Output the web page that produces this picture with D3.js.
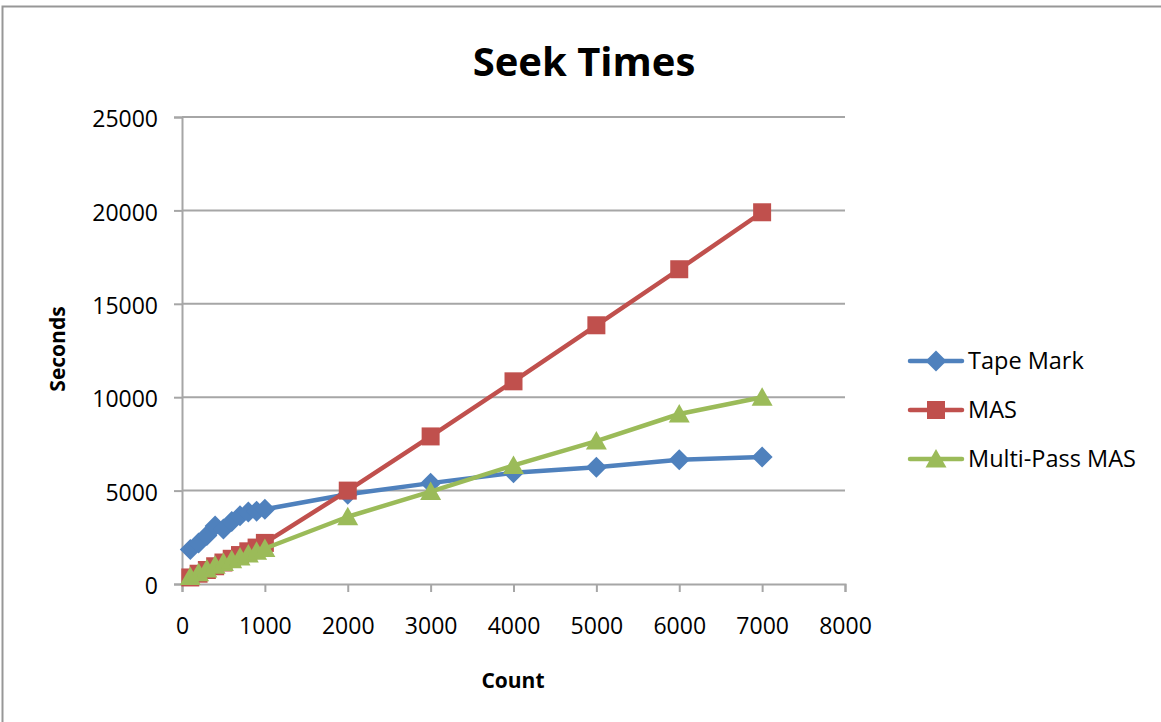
<!DOCTYPE html>
<html>
<head>
<meta charset="utf-8">
<script src="https://cdn.jsdelivr.net/npm/d3@7/dist/d3.min.js"></script>
<style>
  html, body { margin: 0; padding: 0; background: #fff; }
  svg { display: block; }
  text { font-family: "Open Sans", "DejaVu Sans", sans-serif; }
</style>
</head>
<body>
<svg id="chart" width="1161" height="722"></svg>
<script>
// ---- data ----
const counts = [100, 200, 300, 400, 500, 600, 700, 800, 900, 1000, 2000, 3000, 4000, 5000, 6000, 7000];
const tapeMark = [1850, 2200, 2600, 3100, 2950, 3350, 3650, 3850, 3900, 4000, 4800, 5400, 5950, 6250, 6650, 6800];
const mas = [350, 550, 750, 950, 1150, 1350, 1550, 1750, 1950, 2200, 5000, 7900, 10850, 13850, 16850, 19900];
const multiPass = [400, 600, 800, 1000, 1150, 1300, 1450, 1600, 1750, 1900, 3600, 4950, 6350, 7650, 9100, 10000];
const seriesNames = ["Tape Mark", "MAS", "Multi-Pass MAS"];
const seriesColors = ["#4F81BD", "#C0504D", "#9BBB59"];
const seriesShapes = ["diamond", "square", "triangle"];
const xTicks = [0, 1000, 2000, 3000, 4000, 5000, 6000, 7000, 8000];
const yTicks = [0, 5000, 10000, 15000, 20000, 25000];
const titleText = "Seek Times";
const xTitle = "Count";
const yTitle = "Seconds";

const seriesValues = [tapeMark, mas, multiPass];

// ---- layout ----
const svg = d3.select("#chart");
const plot = { left: 182, right: 845, top: 117, bottom: 584 };
const x = d3.scaleLinear().domain([0, 8000]).range([plot.left, plot.right]);
const y = d3.scaleLinear().domain([0, 25000]).range([plot.bottom, plot.top]);
const gridColor = "#A6A6A6";

// chart frame
svg.append("rect")
  .attr("x", 2.5).attr("y", 6.5)
  .attr("width", 1200).attr("height", 800)
  .attr("fill", "#fff").attr("stroke", "#979797").attr("stroke-width", 2);

// title
svg.append("text")
  .attr("x", 584).attr("y", 76)
  .attr("text-anchor", "middle")
  .attr("font-size", 40).attr("font-weight", "bold")
  .attr("fill", "#000")
  .text(titleText);

// gridlines
svg.append("g").selectAll("line")
  .data(yTicks.filter(d => d > 0))
  .join("line")
  .attr("x1", plot.left).attr("x2", plot.right)
  .attr("y1", d => y(d)).attr("y2", d => y(d))
  .attr("stroke", gridColor).attr("stroke-width", 2);

// y axis
const yAxis = d3.axisLeft(y).tickValues(yTicks).tickSize(8).tickPadding(16).tickFormat(d3.format("d"));
const gy = svg.append("g").attr("transform", `translate(${plot.left},0)`).call(yAxis);
gy.select(".domain").attr("stroke", gridColor).attr("stroke-width", 2);
gy.selectAll(".tick line").attr("stroke", gridColor).attr("stroke-width", 2);
gy.selectAll(".tick text").attr("font-size", 23).attr("fill", "#000")
  .attr("dy", "0.42em")
  .attr("font-family", "'Open Sans', sans-serif");

// x axis
const xAxis = d3.axisBottom(x).tickValues(xTicks).tickSize(8).tickPadding(26).tickFormat(d3.format("d"));
const gx = svg.append("g").attr("transform", `translate(0,${plot.bottom})`).call(xAxis);
gx.select(".domain").attr("stroke", gridColor).attr("stroke-width", 2);
gx.selectAll(".tick line").attr("stroke", gridColor).attr("stroke-width", 2);
gx.selectAll(".tick text").attr("font-size", 23).attr("fill", "#000")
  .attr("font-family", "'Open Sans', sans-serif");

// axis titles
svg.append("text")
  .attr("x", 513).attr("y", 688)
  .attr("text-anchor", "middle")
  .attr("font-size", 21).attr("font-weight", "bold")
  .text(xTitle);
svg.append("text")
  .attr("transform", "translate(65,349) rotate(-90)")
  .attr("text-anchor", "middle")
  .attr("font-size", 21).attr("font-weight", "bold")
  .text(yTitle);

// marker shapes
function markerPath(shape) {
  if (shape === "diamond") return "M0,-10.5L10.5,0L0,10.5L-10.5,0Z";
  if (shape === "square") return "M-9,-9H9V9H-9Z";
  return "M0,-10L10.5,8.5L-10.5,8.5Z";
}

const line = d3.line().x(d => x(d[0])).y(d => y(d[1]));

seriesValues.forEach((vals, i) => {
  const pts = counts.map((c, j) => [c, vals[j]]);
  const g = svg.append("g");
  g.append("path")
    .attr("d", line(pts))
    .attr("fill", "none")
    .attr("stroke", seriesColors[i])
    .attr("stroke-width", 4.5)
    .attr("stroke-linejoin", "round")
    .attr("stroke-linecap", "round");
  g.selectAll("path.m").data(pts).join("path")
    .attr("class", "m")
    .attr("transform", d => `translate(${x(d[0])},${y(d[1])})`)
    .attr("d", markerPath(seriesShapes[i]))
    .attr("fill", seriesColors[i]);
});

// legend
const legend = svg.append("g");
seriesNames.forEach((name, i) => {
  const ly = 361 + i * 49;
  legend.append("line")
    .attr("x1", 910).attr("x2", 962).attr("y1", ly).attr("y2", ly)
    .attr("stroke", seriesColors[i]).attr("stroke-width", 4.5)
    .attr("stroke-linecap", "round");
  legend.append("path")
    .attr("transform", `translate(936,${ly})`)
    .attr("d", markerPath(seriesShapes[i]))
    .attr("fill", seriesColors[i]);
  legend.append("text")
    .attr("x", 968).attr("y", ly + 8)
    .attr("font-size", 23.5)
    .attr("fill", "#000")
    .text(name);
});
</script>
</body>
</html>
